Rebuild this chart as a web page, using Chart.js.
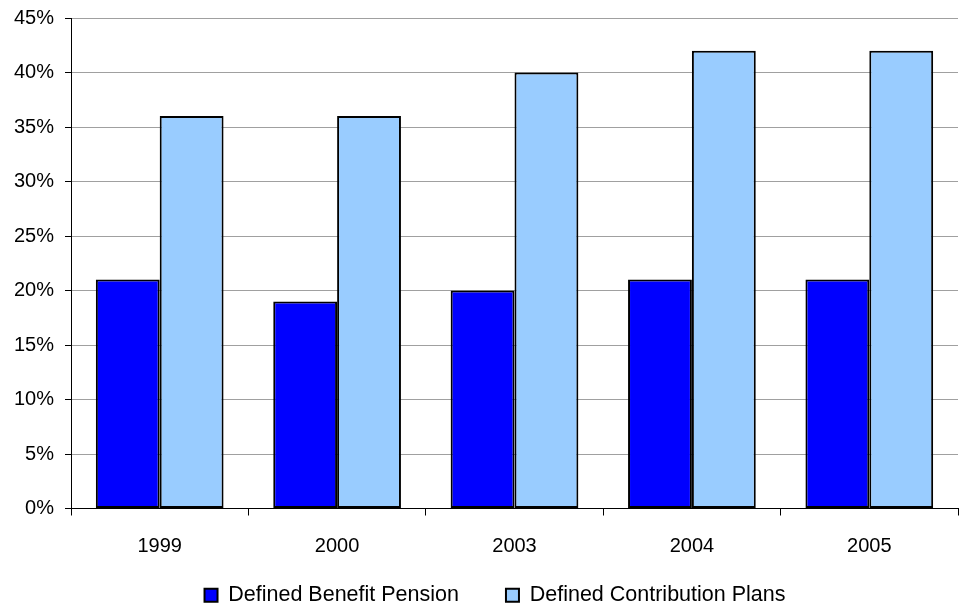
<!DOCTYPE html>
<html>
<head>
<meta charset="utf-8">
<script src="https://cdn.jsdelivr.net/npm/chart.js@4/dist/chart.umd.min.js"></script>
<style>
  html, body { margin: 0; padding: 0; background: #fff; }
  #wrap { width: 961px; height: 605px; }
</style>
</head>
<body>
<div id="wrap"><canvas id="chart"></canvas></div>
<script>
const years = ['1999', '2000', '2003', '2004', '2005'];
const benefitPension = [21, 19, 20, 21, 21];
const contributionPlans = [36, 36, 40, 42, 42];
const yTicks = [0, 5, 10, 15, 20, 25, 30, 35, 40, 45];

Chart.defaults.font.family = '"Liberation Sans", Arial, sans-serif';
Chart.defaults.font.size = 20;
Chart.defaults.color = '#000';

// legend padding doubles as the gap between its two items, which
// leaves too much room above them; pull the legend box back up
const legendLift = {
  id: 'legendLift',
  afterLayout(chart) {
    const lg = chart.legend;
    if (!lg) return;
    lg.top -= 21;
    lg.bottom -= 21;
    lg.left += 16;
    lg.right += 16;
  }
};

const ctx = document.getElementById('chart').getContext('2d');
new Chart(ctx, {
  type: 'bar',
  data: {
    labels: years,
    datasets: [{
      label: 'Defined Benefit Pension',
      data: benefitPension,
      backgroundColor: '#0000ff',
      borderColor: '#000',
      borderWidth: 2,
      borderSkipped: false,
      categoryPercentage: 0.72,
      barPercentage: 1
    }, {
      label: 'Defined Contribution Plans',
      data: contributionPlans,
      backgroundColor: '#99ccff',
      borderColor: '#000',
      borderWidth: 2,
      borderSkipped: false,
      categoryPercentage: 0.72,
      barPercentage: 1
    }]
  },
  options: {
    responsive: true,
    maintainAspectRatio: false,
    animation: false,
    layout: { padding: { top: 18, right: 3, bottom: -32, left: 0 } },
    plugins: {
      tooltip: { enabled: false },
      legend: {
        position: 'bottom',
        labels: {
          boxWidth: 13,
          boxHeight: 13,
          padding: 47,
          color: '#000',
          font: { size: 21.5 }
        }
      }
    },
    scales: {
      x: {
        grid: {
          drawOnChartArea: false,
          tickLength: 7,
          tickColor: '#000'
        },
        border: { color: '#000', width: 1 },
        ticks: { padding: 19, color: '#000' },
        afterFit: function(scale) { scale.height = 50; }
      },
      y: {
        min: 0,
        max: 45,
        afterBuildTicks: function(scale) {
          scale.ticks = yTicks.map(v => ({ value: v }));
        },
        grid: {
          color: '#a0a0a0',
          tickColor: '#000',
          tickLength: 6
        },
        border: { color: '#000', width: 1 },
        ticks: {
          padding: 11,
          color: '#000',
          font: { lineHeight: 0.5 },
          callback: v => v + '%'
        },
        afterFit: function(scale) { scale.width = 71; }
      }
    }
  },
  plugins: [legendLift]
});
</script>
</body>
</html>
